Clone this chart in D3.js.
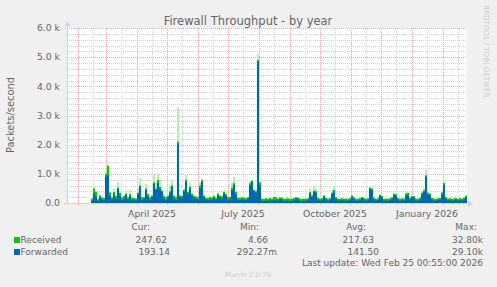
<!DOCTYPE html>
<meta charset="utf-8">
<style>

body {
  margin: 0;
  background: #f0f0f0;
}

svg {
  display: block;
  font-family: "DejaVu Sans", sans-serif;
}

.grid-minor line { stroke: #d4d4d4; stroke-dasharray: 1,1; }
.grid-major line { stroke: #f0a8a8; stroke-dasharray: 1,1; }
.axis-line { stroke: #cbd2f6; fill: none; }
.arrow { fill: #cbd2f6; }
.txt { fill: #666; }
.faint { fill: #cfcfcf; }

</style>
<body>
<script src="https://cdn.jsdelivr.net/npm/d3@7/dist/d3.min.js"></script>
<script>

// time window: munin "year" graph = last 400 days, one sample per day (shown in 2-day bins)
var lastUpdate = Date.UTC(2026, 1, 25, 0, 55);
var firstBin = Date.UTC(2025, 1, 14);
var binDays = 2;

// packets/second, one value per 2-day bin from 14 Feb 2025
var forwarded = [
  80, 330, 220, 70, 210, 120, 100, 900, 960, 260,
  120, 300, 150, 500, 260, 100, 150, 280, 120, 250,
  100, 120, 80, 300, 560, 100, 150, 450, 250, 100,
  200, 640, 450, 680, 500, 380, 150, 100, 200, 350,
  560, 150, 100, 2020, 200, 180, 390, 730, 300, 500,
  250, 180, 150, 120, 500, 730, 200, 120, 100, 150,
  120, 180, 120, 270, 200, 150, 330, 250, 120, 150,
  450, 620, 300, 120, 100, 150, 120, 100, 150, 600,
  730, 400, 350, 4850, 600, 80, 70, 90, 70, 100,
  80, 100, 120, 80, 140, 120, 70, 80, 90, 70,
  80, 100, 160, 140, 80, 70, 90, 80, 100, 330,
  200, 390, 350, 120, 80, 100, 220, 120, 80, 100,
  300, 390, 150, 90, 80, 100, 70, 90, 80, 100,
  220, 150, 80, 90, 100, 170, 120, 80, 100, 470,
  450, 120, 80, 100, 240, 200, 80, 90, 70, 100,
  150, 270, 250, 120, 80, 100, 90, 250, 270, 120,
  200, 180, 90, 80, 120, 300, 390, 900, 300, 270,
  120, 90, 80, 100, 120, 300, 620, 150, 90, 100,
  80, 90, 110, 80, 100, 90, 120, 193
];

var received = [
  150, 500, 380, 130, 260, 190, 170, 1000, 1280, 360,
  200, 380, 240, 520, 340, 190, 240, 320, 190, 300,
  180, 170, 150, 350, 600, 200, 200, 500, 300, 200,
  250, 700, 500, 800, 560, 420, 250, 200, 250, 400,
  600, 250, 200, 2100, 260, 240, 450, 800, 380, 560,
  320, 240, 220, 200, 600, 780, 260, 180, 170, 200,
  190, 240, 180, 320, 250, 230, 380, 300, 200, 210,
  520, 680, 380, 180, 170, 200, 180, 160, 200, 680,
  760, 450, 400, 4900, 700, 150, 140, 160, 150, 170,
  150, 210, 200, 150, 190, 180, 140, 150, 160, 140,
  150, 160, 200, 190, 150, 140, 150, 140, 160, 380,
  260, 420, 400, 180, 150, 160, 260, 180, 140, 160,
  350, 450, 200, 150, 140, 160, 140, 150, 140, 160,
  260, 200, 140, 150, 160, 210, 170, 140, 160, 520,
  500, 180, 140, 160, 280, 240, 140, 150, 140, 160,
  200, 320, 300, 180, 140, 160, 150, 330, 340, 180,
  240, 230, 150, 140, 180, 350, 440, 950, 350, 320,
  180, 150, 140, 160, 170, 360, 690, 200, 150, 160,
  140, 150, 170, 140, 160, 150, 180, 248
];

// pale green peaks drawn behind the received area
var receivedPeak = [
  160, 550, 420, 140, 280, 200, 180, 1100, 1300, 380,
  210, 500, 260, 720, 380, 200, 250, 400, 200, 450,
  190, 180, 160, 500, 850, 210, 220, 650, 320, 210,
  280, 1000, 700, 1000, 800, 500, 260, 210, 270, 600,
  800, 260, 220, 3300, 300, 260, 500, 960, 450, 700,
  350, 260, 230, 210, 700, 840, 280, 190, 180, 220,
  200, 260, 190, 350, 270, 240, 450, 320, 210, 220,
  700, 900, 420, 190, 180, 210, 190, 170, 210, 750,
  800, 500, 450, 5100, 800, 160, 150, 170, 160, 180,
  160, 220, 210, 160, 200, 190, 150, 160, 170, 150,
  160, 170, 210, 200, 160, 150, 160, 150, 170, 500,
  300, 550, 500, 190, 160, 170, 280, 190, 150, 170,
  450, 600, 220, 160, 150, 170, 150, 160, 150, 170,
  280, 210, 150, 160, 170, 220, 180, 150, 170, 560,
  540, 190, 150, 170, 300, 250, 150, 160, 150, 170,
  210, 350, 320, 190, 150, 170, 160, 360, 380, 190,
  250, 240, 160, 150, 190, 380, 480, 1130, 400, 340,
  190, 160, 150, 170, 180, 400, 760, 210, 160, 170,
  150, 160, 180, 150, 170, 160, 190, 260
];

var yTicks = [0, 1000, 2000, 3000, 4000, 5000, 6000];
var yTickLabels = ["0.0", "1.0 k", "2.0 k", "3.0 k", "4.0 k", "5.0 k", "6.0 k"];
var xLabelMonths = ["2025-04", "2025-07", "2025-10", "2026-01"];
var xTickLabels = ["April 2025", "July 2025", "October 2025", "January 2026"];

var seriesNames = ["Received", "Forwarded"];
var seriesColors = ["#00cc00", "#0066b3"];
var curVals = ["247.62", "193.14"];
var minVals = ["4.66", "292.27m"];
var avgVals = ["217.63", "141.50"];
var maxVals = ["32.80k", "29.10k"];

var width = 497, height = 287;
var plot = {left: 67, right: 467, top: 28, bottom: 203};

var svg = d3.select("body").append("svg")
    .attr("width", width)
    .attr("height", height);

var x = d3.scaleUtc()
    .domain([d3.utcDay.offset(new Date(lastUpdate), -400), new Date(lastUpdate)])
    .range([plot.left, plot.right]);

var y = d3.scaleLinear()
    .domain([0, 6000])
    .range([plot.bottom, plot.top]);

function px(v) { return Math.round(v) + 0.5; }

svg.append("rect")
    .attr("x", plot.left)
    .attr("y", plot.top)
    .attr("width", plot.right - plot.left)
    .attr("height", plot.bottom - plot.top)
    .attr("fill", "#fff");

// grid
var months = d3.utcMonth.range(d3.utcMonth.ceil(x.domain()[0]), x.domain()[1]);
var midMonths = months.map(function(m) { return d3.utcDay.offset(m, 15); })
    .filter(function(d) { return d < x.domain()[1]; });
var minorY = d3.range(200, 6001, 200).filter(function(v) { return v % 1000 !== 0; });

var gMinor = svg.append("g").attr("class", "grid-minor");
gMinor.selectAll(".h").data(minorY).enter().append("line")
    .attr("x1", plot.left - 2).attr("x2", plot.right)
    .attr("y1", function(d) { return px(y(d)); })
    .attr("y2", function(d) { return px(y(d)); });
gMinor.selectAll(".v").data(midMonths).enter().append("line")
    .attr("x1", function(d) { return px(x(d)); })
    .attr("x2", function(d) { return px(x(d)); })
    .attr("y1", plot.top).attr("y2", plot.bottom + 2);

var gMajor = svg.append("g").attr("class", "grid-major");
gMajor.selectAll(".h").data(yTicks.slice(1)).enter().append("line")
    .attr("x1", plot.left - 2).attr("x2", plot.right)
    .attr("y1", function(d) { return px(y(d)); })
    .attr("y2", function(d) { return px(y(d)); });
gMajor.selectAll(".v").data(months).enter().append("line")
    .attr("x1", function(d) { return px(x(d)); })
    .attr("x2", function(d) { return px(x(d)); })
    .attr("y1", plot.top).attr("y2", plot.bottom + 3);

// data
var points = forwarded.map(function(f, i) {
  return {t: d3.utcDay.offset(new Date(firstBin), i * binDays), f: f, r: received[i], p: receivedPeak[i]};
});
var last = points[points.length - 1];
points.push({t: new Date(lastUpdate), f: last.f, r: last.r, p: last.p});

function area(key) {
  return d3.area()
      .curve(d3.curveStepAfter)
      .x(function(d) { return x(d.t); })
      .y0(plot.bottom)
      .y1(function(d) { return y(d[key]); });
}

svg.append("path").datum(points).attr("d", area("p")).attr("fill", "#b4eeb4");
svg.append("path").datum(points).attr("d", area("r")).attr("fill", seriesColors[0]);
svg.append("path").datum(points).attr("d", area("f")).attr("fill", seriesColors[1]);

// axes
svg.append("path").attr("class", "axis-line")
    .attr("d", "M" + (plot.left + 0.5) + "," + plot.bottom + "V" + (plot.top - 3));
svg.append("path").attr("class", "axis-line")
    .attr("d", "M" + (plot.left - 3) + "," + (plot.bottom + 0.5) + "H" + (plot.right + 2));
svg.append("path").attr("class", "arrow")
    .attr("d", "M" + (plot.left + 0.5) + "," + (plot.top - 7) + "l3,5h-6z");
svg.append("path").attr("class", "arrow")
    .attr("d", "M" + (plot.right + 6) + "," + (plot.bottom + 0.5) + "l-5,-3v6z");

// y tick labels
svg.selectAll(".ylab").data(yTicks).enter().append("text")
    .attr("class", "txt")
    .attr("x", plot.left - 7)
    .attr("y", function(d) { return y(d); })
    .attr("dy", "0.35em")
    .attr("text-anchor", "end")
    .style("font-size", "9.3px")
    .text(function(d, i) { return yTickLabels[i]; });

// x labels, centred on mid month
svg.selectAll(".xlab").data(xLabelMonths).enter().append("text")
    .attr("class", "txt")
    .attr("x", function(d) { return x(d3.utcDay.offset(d3.utcParse("%Y-%m")(d), 15)); })
    .attr("y", 217)
    .attr("text-anchor", "middle")
    .style("font-size", "9.3px")
    .text(function(d, i) { return xTickLabels[i]; });

svg.append("text")
    .attr("class", "txt")
    .attr("x", 248)
    .attr("y", 25)
    .attr("text-anchor", "middle")
    .style("font-size", "11.5px")
    .text("Firewall Throughput - by year");

svg.append("text")
    .attr("class", "txt")
    .attr("transform", "translate(13.5,115) rotate(-90)")
    .attr("text-anchor", "middle")
    .style("font-size", "9.9px")
    .text("Packets/second");

svg.append("text")
    .attr("class", "faint")
    .attr("transform", "translate(484,5) rotate(90)")
    .style("font-size", "7.2px")
    .text("RRDTOOL / TOBI OETIKER");

// legend
var cols = [
  {head: "Cur:", hx: 150, vals: curVals, vx: [167, 170]},
  {head: "Min:", hx: 259, vals: minVals, vx: [268, 277]},
  {head: "Avg:", hx: 366, vals: avgVals, vx: [374, 379]},
  {head: "Max:", hx: 477, vals: maxVals, vx: [483, 483]}
];
var rowY = [243, 255];

cols.forEach(function(c) {
  svg.append("text").attr("class", "txt")
      .attr("x", c.hx).attr("y", 230)
      .attr("text-anchor", "end")
      .style("font-size", "9px")
      .text(c.head);
  c.vals.forEach(function(v, i) {
    svg.append("text").attr("class", "txt")
        .attr("x", c.vx[i]).attr("y", rowY[i])
        .attr("text-anchor", "end")
        .style("font-size", "9px")
        .text(v);
  });
});

seriesNames.forEach(function(name, i) {
  svg.append("rect")
      .attr("x", 14).attr("y", rowY[i] - 6)
      .attr("width", 6).attr("height", 6)
      .attr("fill", seriesColors[i]);
  svg.append("text").attr("class", "txt")
      .attr("x", 20.5).attr("y", rowY[i])
      .style("font-size", "9px")
      .text(name);
});

svg.append("text").attr("class", "txt")
    .attr("x", 483).attr("y", 266)
    .attr("text-anchor", "end")
    .style("font-size", "9px")
    .text("Last update: Wed Feb 25 00:55:00 2026");

svg.append("text").attr("class", "faint")
    .attr("x", 248).attr("y", 277)
    .attr("text-anchor", "middle")
    .style("font-size", "7.1px")
    .text("Munin 2.0.76");

</script>
